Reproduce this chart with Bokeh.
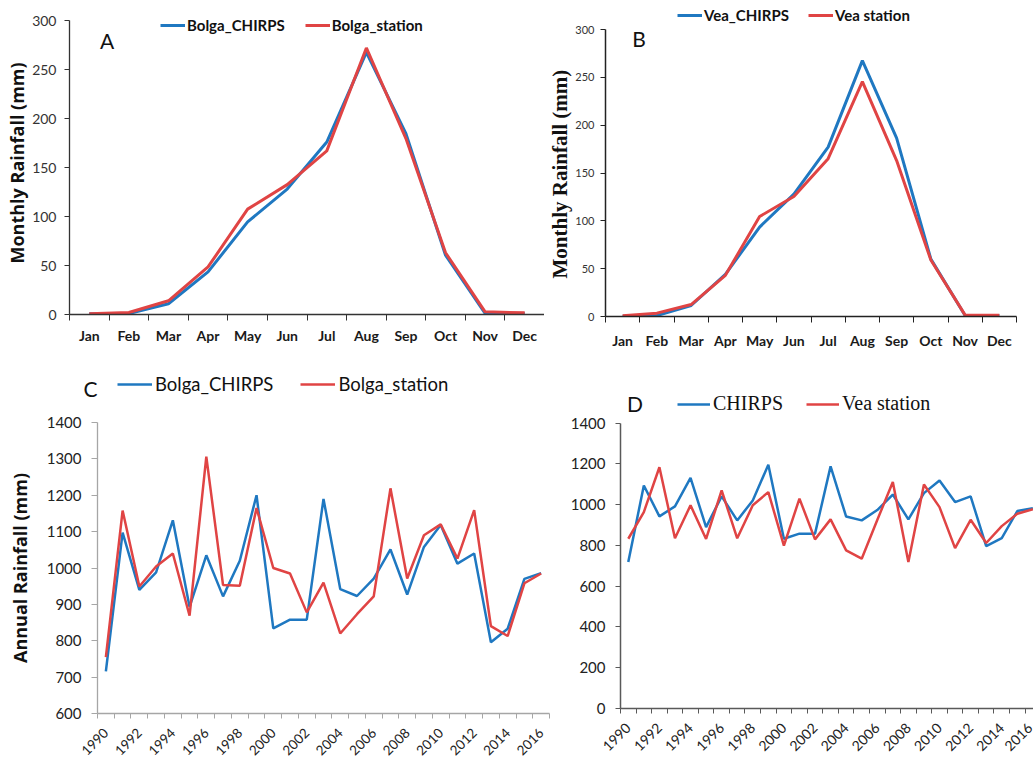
import math
from bokeh.plotting import figure
from bokeh.layouts import row, column
from bokeh.models import (FixedTicker, SingleIntervalTicker, Legend, LegendItem,
                          Label, Range1d, Title)
from bokeh.embed import file_html
from bokeh.resources import INLINE

# ---------------- data ----------------
months = ["Jan", "Feb", "Mar", "Apr", "May", "Jun",
          "Jul", "Aug", "Sep", "Oct", "Nov", "Dec"]
bolga_chirps_monthly = [0.7, 1.0, 11, 43.5, 94.5, 128, 176, 267.5, 184.5, 60.5, 1.0, 1.0]
bolga_station_monthly = [0.7, 2.0, 14, 48.5, 107.5, 132.5, 167, 272, 179.5, 63, 2.7, 1.7]
vea_chirps_monthly = [0.3, 1.0, 11.5, 44, 93.5, 128, 177, 267.5, 186.5, 60, 1.0, 1.0]
vea_station_monthly = [0.7, 3.5, 12.5, 43, 104.5, 125.5, 165, 245.5, 163, 59, 1.4, 1.4]

years = [1990, 1991, 1992, 1993, 1994, 1995, 1996, 1997, 1998, 1999,
         2000, 2001, 2002, 2003, 2004, 2005, 2006, 2007, 2008, 2009,
         2010, 2011, 2012, 2013, 2014, 2015, 2016]
year_labels = ["1990", "1992", "1994", "1996", "1998", "2000", "2002",
               "2004", "2006", "2008", "2010", "2012", "2014", "2016"]
bolga_chirps_annual = [716, 1097, 940, 988, 1131, 893, 1035, 922, 1020, 1200,
                       834, 858, 858, 1190, 942, 923, 971, 1051, 927, 1058,
                       1118, 1012, 1040, 796, 833, 970, 986]
bolga_station_annual = [755, 1158, 949, 1004, 1040, 869, 1306, 953, 951, 1165,
                        1000, 985, 878, 960, 820, 873, 922, 1219, 971, 1090,
                        1120, 1026, 1159, 840, 813, 958, 985]
vea_chirps_annual = [719, 1094, 943, 992, 1132, 890, 1041, 923, 1021, 1196,
                     833, 858, 858, 1188, 942, 923, 974, 1050, 928, 1057,
                     1119, 1013, 1041, 797, 836, 969, 983]
vea_station_annual = [833, 964, 1184, 835, 997, 832, 1070, 835, 997, 1062,
                      799, 1030, 830, 928, 776, 735, 925, 1111, 719, 1099,
                      988, 787, 926, 812, 895, 956, 978]

BLUE = "#1f78c1"
RED = "#e04444"
CAL = "Lato"

month_x = [i + 1 for i in range(len(months))]
month_bounds = [i + 0.5 for i in range(len(months) + 1)]
year_bounds = [y - 0.5 for y in years] + [years[-1] + 0.5]
year_label_ticks = [int(s) for s in year_labels]


def base(width, height, xr, yr, left, right, top, bottom):
    p = figure(width=width, height=height, x_range=Range1d(*xr), y_range=Range1d(*yr),
               output_backend="svg", toolbar_location=None,
               min_border_left=left, min_border_right=right,
               min_border_top=top, min_border_bottom=bottom)
    p.xgrid.visible = False
    p.ygrid.visible = False
    p.outline_line_color = None
    p.background_fill_color = "white"
    p.border_fill_color = "white"
    p.frame_align = False
    return p


def extended_top(y0, y1, frame_h, top_gap):
    # range end so that y1 sits top_gap px below the top of the frame
    return y0 + (y1 - y0) * frame_h / (frame_h - top_gap)


def style_legend(p, items, loc, font, size, style, glyph_w, standoff, spacing, color="#111111"):
    lg = Legend(items=items, orientation="horizontal", location=loc,
                border_line_color=None, background_fill_alpha=0,
                padding=0, margin=0, spacing=spacing, glyph_width=glyph_w,
                glyph_height=20, label_standoff=standoff, label_height=20,
                label_text_font=font, label_text_font_size=size,
                label_text_font_style=style, label_text_color=color)
    p.add_layout(lg)


def month_xaxis(p, standoff):
    p.xaxis.ticker = FixedTicker(ticks=month_x, minor_ticks=month_bounds)
    p.xaxis.major_label_overrides = {x: m for x, m in zip(month_x, months)}
    p.xaxis.major_tick_out = 0
    p.xaxis.major_tick_in = 0
    p.xaxis.minor_tick_out = 6
    p.xaxis.minor_tick_in = 0
    p.xaxis.major_label_standoff = standoff
    p.xaxis.major_label_text_font = CAL
    p.xaxis.major_label_text_font_size = "14px"
    p.xaxis.major_label_text_font_style = "bold"
    p.xaxis.major_label_text_color = "#1a1a1a"


# ---------------- Panel A ----------------
A_H, A_BOT, A_TOPGAP = 360, 46, 20
pa = base(544, A_H, (0.5, 12.5), (0, extended_top(0, 300, A_H - A_BOT, A_TOPGAP)), 69, 0, 0, A_BOT)
ra1 = pa.line(month_x, bolga_chirps_monthly, line_color=BLUE, line_width=3)
ra2 = pa.line(month_x, bolga_station_monthly, line_color=RED, line_width=3)
month_xaxis(pa, 6)
pa.yaxis.bounds = (0, 300)
pa.yaxis.ticker = SingleIntervalTicker(interval=50, num_minor_ticks=0)
pa.yaxis.major_tick_out = 5
pa.yaxis.major_tick_in = 0
pa.yaxis.major_label_standoff = 8
pa.yaxis.major_label_text_font = CAL
pa.yaxis.major_label_text_font_size = "14px"
pa.yaxis.major_label_text_color = "#333333"
pa.add_layout(Title(text="Monthly  Rainfall (mm)", align="left", offset=51, standoff=2,
                    text_font="Open Sans", text_font_size="18px", text_font_style="bold",
                    text_color="#111111"), "left")
for ax in (pa.xaxis, pa.yaxis):
    ax.axis_line_color = "#333333"
    ax.axis_line_width = 1.3
    ax.major_tick_line_color = "#333333"
    ax.minor_tick_line_color = "#333333"
style_legend(pa, [LegendItem(label="Bolga_CHIRPS", renderers=[ra1]),
                  LegendItem(label="Bolga_station", renderers=[ra2])],
             (91, 279), CAL, "15px", "bold", 25, 2, 20)
pa.add_layout(Label(x=1.45, y=279.6, text="A", text_align="center", text_baseline="middle",
                    text_font=CAL, text_font_size="21px", text_color="#111111"))

# ---------------- Panel B ----------------
B_H, B_BOT, B_TOPGAP = 360, 44, 29
pb = base(489, B_H, (0.5, 12.5), (0, extended_top(0, 300, B_H - B_BOT, B_TOPGAP)), 57, 17, 0, B_BOT)
rb1 = pb.line(month_x, vea_chirps_monthly, line_color=BLUE, line_width=3)
rb2 = pb.line(month_x, vea_station_monthly, line_color=RED, line_width=3)
month_xaxis(pb, 9)
pb.yaxis.bounds = (0, 300)
pb.yaxis.ticker = SingleIntervalTicker(interval=50, num_minor_ticks=0)
pb.yaxis.major_tick_out = 5
pb.yaxis.major_tick_in = 0
pb.yaxis.major_label_standoff = 6
pb.yaxis.major_label_text_font = CAL
pb.yaxis.major_label_text_font_size = "11px"
pb.yaxis.major_label_text_color = "#333333"
pb.add_layout(Title(text="Monthly  Rainfall (mm)", align="left", offset=38, standoff=2,
                    text_font="Liberation Serif", text_font_size="21px", text_font_style="bold",
                    text_color="#111111"), "left")
for ax in (pb.xaxis, pb.yaxis):
    ax.axis_line_color = "#222222"
    ax.axis_line_width = 1.5
    ax.major_tick_line_color = "#222222"
    ax.minor_tick_line_color = "#222222"
style_legend(pb, [LegendItem(label="Vea_CHIRPS", renderers=[rb1]),
                  LegendItem(label="Vea station", renderers=[rb2])],
             (72, 291), CAL, "15px", "bold", 25, 2, 19)
pb.add_layout(Label(x=1.48, y=290.6, text="B", text_align="center", text_baseline="middle",
                    text_font=CAL, text_font_size="21px", text_color="#111111"))

# ---------------- Panel C (header strip with letter + legend, then chart) ----------------
HC_H = 45
hc = figure(width=560, height=HC_H, x_range=Range1d(0, 560), y_range=Range1d(0, HC_H),
            output_backend="svg", toolbar_location=None, min_border=0,
            x_axis_location=None, y_axis_location=None)
hc.xgrid.visible = False
hc.ygrid.visible = False
hc.outline_line_color = None
hc.frame_align = False
# same series drawn here only to feed the legend swatches (they fall outside this strip's range)
hl1 = hc.line(years, bolga_chirps_annual, line_color=BLUE, line_width=2.5)
hl2 = hc.line(years, bolga_station_annual, line_color=RED, line_width=2.5)
style_legend(hc, [LegendItem(label="Bolga_CHIRPS", renderers=[hl1]),
                  LegendItem(label="Bolga_station", renderers=[hl2])],
             (117, 10), CAL, "18.5px", "normal", 35, 3, 27)
hc.add_layout(Label(x=90, y=17, text="C", text_align="center", text_baseline="middle",
                    text_font=CAL, text_font_size="21px", text_color="#111111"))

pc = base(560, 402 - HC_H, (1989.5, 2016.5), (600, 1400), 97, 11, 17, 47)
rc1 = pc.line(years, bolga_chirps_annual, line_color=BLUE, line_width=2.5)
rc2 = pc.line(years, bolga_station_annual, line_color=RED, line_width=2.5)
pc.xaxis.ticker = FixedTicker(ticks=year_label_ticks, minor_ticks=year_bounds)
pc.xaxis.major_label_overrides = {int(s): s for s in year_labels}
pc.xaxis.major_label_orientation = math.pi / 4
pc.xaxis.major_tick_out = 0
pc.xaxis.major_tick_in = 0
pc.xaxis.minor_tick_out = 5
pc.xaxis.minor_tick_in = 0
pc.xaxis.major_label_standoff = 12
pc.xaxis.major_label_text_font = CAL
pc.xaxis.major_label_text_font_size = "13.5px"
pc.xaxis.major_label_text_color = "#222222"
pc.yaxis.ticker = SingleIntervalTicker(interval=100, num_minor_ticks=0)
pc.yaxis.major_tick_out = 6
pc.yaxis.major_tick_in = 0
pc.yaxis.major_label_standoff = 10
pc.yaxis.major_label_text_font = CAL
pc.yaxis.major_label_text_font_size = "15px"
pc.yaxis.major_label_text_color = "#222222"
pc.yaxis.axis_label = "Annual Rainfall (mm)"
pc.yaxis.axis_label_text_font = "Open Sans"
pc.yaxis.axis_label_text_font_size = "18px"
pc.yaxis.axis_label_text_font_style = "bold"
pc.yaxis.axis_label_text_color = "#111111"
pc.yaxis.axis_label_standoff = 12
for ax in (pc.xaxis, pc.yaxis):
    ax.axis_line_color = "#a6a6a6"
    ax.axis_line_width = 1.3
    ax.major_tick_line_color = "#a6a6a6"
    ax.minor_tick_line_color = "#a6a6a6"

# ---------------- Panel D ----------------
D_H, D_BOT, D_TOPGAP = 402, 54, 62.7
pd_ = base(473, D_H, (1989.5, 2016.04), (0, extended_top(0, 1400, D_H - D_BOT, D_TOPGAP)), 60, 0, 0, D_BOT)
rd1 = pd_.line(years, vea_chirps_annual, line_color=BLUE, line_width=2.5)
rd2 = pd_.line(years, vea_station_annual, line_color=RED, line_width=2.5)
pd_.xaxis.ticker = FixedTicker(ticks=year_label_ticks, minor_ticks=year_bounds)
pd_.xaxis.major_label_overrides = {int(s): s for s in year_labels}
pd_.xaxis.major_label_orientation = math.pi / 4
pd_.xaxis.major_tick_out = 0
pd_.xaxis.major_tick_in = 0
pd_.xaxis.minor_tick_out = 5
pd_.xaxis.minor_tick_in = 0
pd_.xaxis.major_label_standoff = 12
pd_.xaxis.major_label_text_font = CAL
pd_.xaxis.major_label_text_font_size = "14px"
pd_.xaxis.major_label_text_color = "#222222"
pd_.yaxis.bounds = (0, 1400)
pd_.yaxis.ticker = SingleIntervalTicker(interval=200, num_minor_ticks=0)
pd_.yaxis.major_tick_out = 5
pd_.yaxis.major_tick_in = 0
pd_.yaxis.major_label_standoff = 10
pd_.yaxis.major_label_text_font = CAL
pd_.yaxis.major_label_text_font_size = "15px"
pd_.yaxis.major_label_text_color = "#222222"
for ax in (pd_.xaxis, pd_.yaxis):
    ax.axis_line_color = "#595959"
    ax.axis_line_width = 1.5
    ax.major_tick_line_color = "#595959"
    ax.minor_tick_line_color = "#595959"
style_legend(pd_, [LegendItem(label="CHIRPS", renderers=[rd1]),
                   LegendItem(label="Vea station", renderers=[rd2])],
             (57, 293), "Liberation Serif", "20px", "normal", 33, 3, 23)
pd_.add_layout(Label(x=1990.43, y=1496, text="D", text_align="center", text_baseline="middle",
                     text_font=CAL, text_font_size="21px", text_color="#111111"))

layout = column(row(pa, pb), row(column(hc, pc), pd_))
open("out.html", "w").write(file_html(layout, INLINE))
